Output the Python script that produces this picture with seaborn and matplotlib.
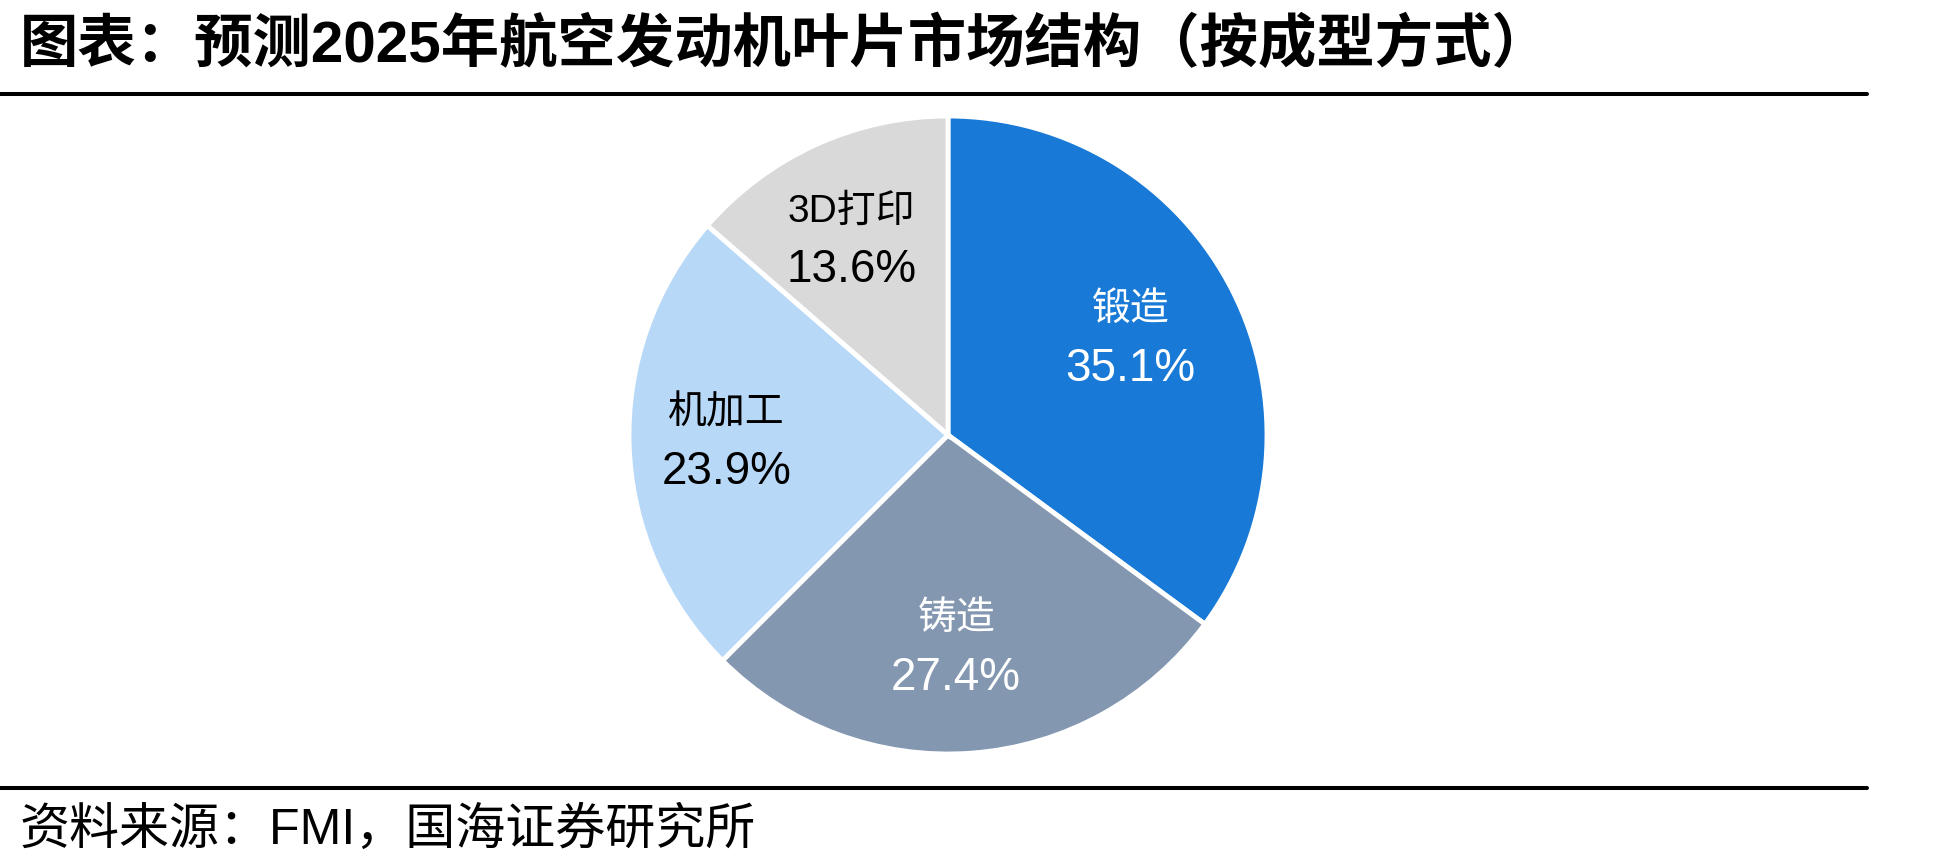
import numpy as np
import seaborn as sns
import matplotlib.pyplot as plt
from matplotlib.lines import Line2D

# data
categories = ['锻造', '铸造', '机加工', '3D打印']
shares = [35.1, 27.4, 23.9, 13.6]
colors = ['#1879D6', '#8497B0', '#B8D8F8', '#D9D9D9']
text_colors = ['white', 'white', 'black', 'black']
title = '图表：预测2025年航空发动机叶片市场结构（按成型方式）'
source = '资料来源：FMI，国海证券研究所'

sns.set_theme(style='white')
plt.rcParams['font.family'] = ['Liberation Sans', 'Noto Sans CJK SC', 'DejaVu Sans']

W, H = 1956, 868
fig = plt.figure(figsize=(W / 100, H / 100), dpi=100)

# pie axes: centre ~ (948, 435) px, radius ~ 319 px
cx, cy, r = 948, 435, 319
ax = fig.add_axes([(cx - r) / W, 1 - (cy + r) / H, 2 * r / W, 2 * r / H])
wedges, _ = ax.pie(shares, colors=colors, startangle=90, counterclock=False,
                   wedgeprops=dict(edgecolor='white', linewidth=3.5))
ax.set_xlim(-1, 1)
ax.set_ylim(-1, 1)
ax.set_aspect('equal')
ax.axis('off')

for w, name, val, tc in zip(wedges, categories, shares, text_colors):
    ang = np.deg2rad((w.theta1 + w.theta2) / 2)
    pos = (0.67 * np.cos(ang), 0.67 * np.sin(ang))
    ax.annotate(name, pos, xytext=(-8, 29), textcoords='offset pixels',
                ha='center', va='center', fontsize=28, color=tc)
    ax.annotate(f'{val:.1f}%', pos, xytext=(-8, -30), textcoords='offset pixels',
                ha='center', va='center', fontsize=33, color=tc)

# title, rules and source
fig.text(20 / W, 1 - 46 / H, title, fontsize=42, fontweight='bold',
         ha='left', va='center', color='black')
fig.add_artist(Line2D([0, 1867 / W], [1 - 94 / H] * 2, color='black', lw=2.9))
fig.add_artist(Line2D([0, 1867 / W], [1 - 788 / H] * 2, color='black', lw=2.9))
fig.text(20 / W, 1 - 830 / H, source, fontsize=36,
         ha='left', va='center', color='black')

fig.savefig('out.png', dpi=100, facecolor='white')
